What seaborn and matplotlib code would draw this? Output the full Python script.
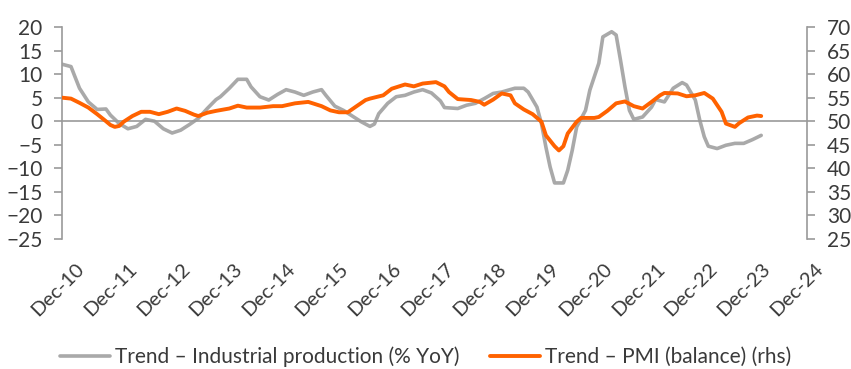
import pandas as pd
import matplotlib
matplotlib.use("Agg")
import matplotlib.pyplot as plt
import matplotlib.dates as mdates
import matplotlib.transforms as mtransforms
import seaborn as sns

# Trend - Industrial production (% YoY), left axis
ip_dates = ['2010-12', '2011-02', '2011-03', '2011-04', '2011-06', '2011-08', '2011-10', '2011-11',
            '2012-01', '2012-03', '2012-05', '2012-07', '2012-09', '2012-11',
            '2013-01', '2013-03', '2013-05', '2013-07', '2013-09', '2013-11', '2013-12',
            '2014-02', '2014-04', '2014-06', '2014-07', '2014-09', '2014-11',
            '2015-01', '2015-03', '2015-05', '2015-07', '2015-09', '2015-11', '2015-12',
            '2016-02', '2016-04', '2016-06', '2016-08', '2016-10', '2016-11', '2016-12',
            '2017-02', '2017-04', '2017-06', '2017-08', '2017-10', '2017-12',
            '2018-02', '2018-03', '2018-06', '2018-08', '2018-10', '2018-12',
            '2019-02', '2019-04', '2019-07', '2019-09', '2019-10', '2019-12',
            '2020-01', '2020-02', '2020-03', '2020-04', '2020-06', '2020-07', '2020-08', '2020-09',
            '2020-11', '2020-12',
            '2021-02', '2021-03', '2021-05', '2021-06', '2021-07', '2021-08', '2021-09', '2021-10',
            '2021-12',
            '2022-02', '2022-03', '2022-05', '2022-07', '2022-09', '2022-10', '2022-12',
            '2023-01', '2023-02', '2023-03', '2023-05', '2023-07', '2023-09', '2023-11',
            '2024-01', '2024-03']
ip_values = [12.1, 11.6, 9.4, 7.0, 4.1, 2.5, 2.6, 1.3,
             -0.5, -1.6, -1.1, 0.4, 0.0, -1.6,
             -2.5, -1.9, -0.7, 0.6, 2.7, 4.6, 5.2,
             7.0, 8.9, 8.9, 7.3, 5.2, 4.5,
             5.7, 6.7, 6.2, 5.5, 6.2, 6.7, 5.5,
             3.2, 2.3, 1.1, -0.1, -1.1, -0.6, 1.6,
             3.8, 5.2, 5.5, 6.2, 6.7, 6.0,
             4.3, 2.9, 2.7, 3.4, 3.8, 4.8,
             5.9, 6.2, 7.0, 7.0, 6.2, 3.0,
             -0.5, -5.5, -9.7, -13.1, -13.1, -10.4, -6.2, -1.2,
             2.3, 6.6,
             12.3, 17.9, 19.0, 18.3, 13.0, 7.3, 2.3, 0.4,
             0.9,
             3.0, 4.6, 4.1, 7.0, 8.2, 7.7, 4.5,
             0.2, -3.3, -5.3, -5.8, -5.1, -4.7, -4.7,
             -3.9, -3.0]

# Trend - PMI (balance), right axis
pmi_dates = ['2010-12', '2011-02', '2011-04', '2011-06', '2011-08', '2011-10', '2011-11', '2011-12',
             '2012-01', '2012-02', '2012-04', '2012-06', '2012-08', '2012-10', '2012-12',
             '2013-02', '2013-04', '2013-06', '2013-07', '2013-09', '2013-11',
             '2014-02', '2014-04', '2014-06', '2014-09', '2014-12',
             '2015-02', '2015-05', '2015-08', '2015-09', '2015-11',
             '2016-01', '2016-03', '2016-05', '2016-07', '2016-09', '2016-10',
             '2017-01', '2017-03', '2017-06', '2017-08', '2017-10',
             '2018-01', '2018-03', '2018-04', '2018-06', '2018-09', '2018-11', '2018-12',
             '2019-02', '2019-04', '2019-06', '2019-07', '2019-09', '2019-11',
             '2020-01', '2020-02', '2020-04', '2020-05', '2020-06', '2020-07', '2020-09', '2020-10',
             '2021-01', '2021-02', '2021-04', '2021-06', '2021-08', '2021-10', '2021-12',
             '2022-02', '2022-04', '2022-05', '2022-08', '2022-10', '2022-12',
             '2023-02', '2023-04', '2023-06', '2023-07', '2023-09', '2023-10', '2023-12',
             '2024-02', '2024-03']
pmi_values = [55.0, 54.8, 53.9, 52.9, 51.5, 50.0, 49.2, 48.8,
              49.0, 49.9, 51.1, 52.0, 52.0, 51.5, 52.0,
              52.7, 52.2, 51.4, 51.1, 51.8, 52.2,
              52.7, 53.3, 52.9, 52.9, 53.2,
              53.2, 53.8, 54.1, 53.8, 53.2,
              52.3, 51.9, 51.9, 53.2, 54.5, 54.8,
              55.5, 56.9, 57.8, 57.4, 58.0,
              58.3, 57.4, 56.2, 54.7, 54.5, 54.1, 53.5,
              54.6, 55.9, 55.5, 53.8, 52.5, 51.5,
              49.9, 47.0, 44.7, 43.8, 44.7, 47.4, 49.9, 50.7,
              50.7, 50.9, 52.2, 53.8, 54.2, 53.2, 52.7,
              54.1, 55.5, 56.0, 55.9, 55.3, 55.5,
              56.0, 54.8, 52.0, 49.5, 48.8, 49.6, 50.8,
              51.2, 51.1]

ip_label = 'Trend – Industrial production (% YoY)'
pmi_label = 'Trend – PMI (balance) (rhs)'
left_ticks = list(range(-25, 21, 5))
right_ticks = list(range(25, 71, 5))
x_ticks = pd.date_range('2010-12-01', '2024-12-01', freq='12MS')

GREY_LINE = '#a9a9a9'
ORANGE = '#ff6200'
AXIS = '#9a9a9a'
TEXT = '#3a3a3a'

sns.set_style('white')
plt.rcParams['font.family'] = ['Lato', 'DejaVu Sans']

fig = plt.figure(figsize=(8.51, 3.69), dpi=100)
ax = fig.add_axes([0.0729, 0.3523, 0.8754, 0.5745])
ax2 = ax.twinx()

sns.lineplot(x=pd.to_datetime(ip_dates), y=ip_values, ax=ax, color=GREY_LINE,
             linewidth=2.6, label=ip_label)
sns.lineplot(x=pd.to_datetime(pmi_dates), y=pmi_values, ax=ax2, color=ORANGE,
             linewidth=2.8, label=pmi_label, solid_capstyle='round')

ax.set_ylim(-25, 20)
ax.set_yticks(left_ticks)
ax2.set_ylim(25, 70)
ax2.set_yticks(right_ticks)
ax.set_xlim(pd.Timestamp('2010-12-01'), pd.Timestamp('2025-01-12'))

# zero line with the year ticks hanging from it
ax.spines['bottom'].set_position(('data', 0))
for a in (ax, ax2):
    for s in a.spines.values():
        s.set_color(AXIS)
        s.set_linewidth(1.2)
    a.spines['top'].set_visible(False)
ax.spines['right'].set_visible(False)
ax2.spines['left'].set_visible(False)
ax2.spines['bottom'].set_visible(False)

ax.set_xticks(x_ticks)
ax.tick_params(axis='x', direction='out', length=7, width=1.2, color=AXIS, labelbottom=False)
ax.tick_params(axis='y', direction='out', length=5.5, width=1.2, color=AXIS,
               labelsize=15, labelcolor=TEXT, pad=8.5)
ax2.tick_params(axis='y', direction='out', length=5.5, width=1.2, color=AXIS,
                labelsize=15, labelcolor=TEXT, pad=9)

# date labels along the bottom of the plot area
sec = ax.secondary_xaxis(0)
sec.set_xticks(x_ticks)
sec.xaxis.set_major_formatter(mdates.DateFormatter('%b-%y'))
sec.spines['bottom'].set_visible(False)
sec.tick_params(axis='x', length=0, labelsize=14.5, labelcolor=TEXT, pad=15)
shift = mtransforms.ScaledTranslation(9.5 / 72, 0, fig.dpi_scale_trans)
for lab in sec.get_xticklabels():
    lab.set_rotation(45)
    lab.set_ha('right')
    lab.set_va('top')
    lab.set_rotation_mode('anchor')
    lab.set_transform(lab.get_transform() + shift)

ax.set_xlabel('')
ax.set_ylabel('')
ax2.set_ylabel('')
ax.grid(False)
ax2.grid(False)

handles = ax.get_legend().legend_handles + ax2.get_legend().legend_handles
ax.get_legend().remove()
ax2.get_legend().remove()
fig.legend(handles, [ip_label, pmi_label], loc='center', bbox_to_anchor=(0.5, 0.033),
           ncol=2, frameon=False, fontsize=15, labelcolor=TEXT,
           handlelength=2.4, handletextpad=0.25, columnspacing=1.45,
           borderpad=0, borderaxespad=0)

fig.savefig('out.png', dpi=100)
